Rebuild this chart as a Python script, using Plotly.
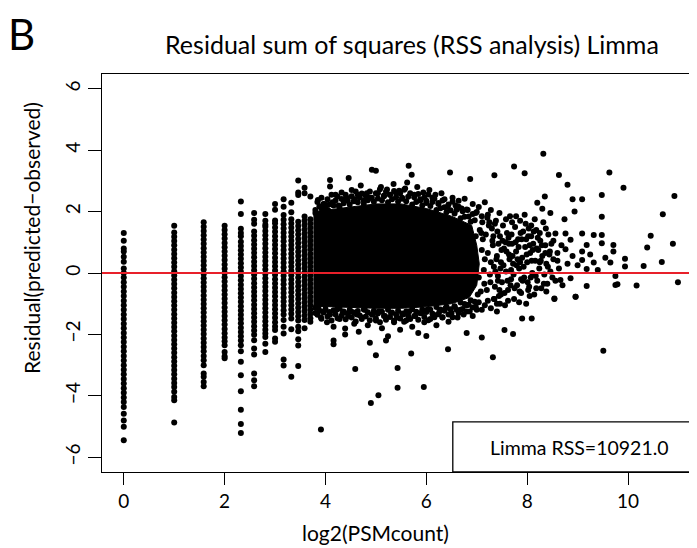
import numpy as np
import plotly.graph_objects as go

# ---------------- data ----------------
# discrete PSM counts (x = log2(count)) and their residual columns
col_counts = [1, 2, 3, 4, 5, 6, 7, 8, 9, 10, 11, 12, 13]
col_residuals = [
    [1.30, 1.05, 0.80, 0.70, 0.53, 0.37, 0.15, 0.00, -0.15, -0.30, -0.45, -0.60, -0.75, -0.90, -1.05, -1.20,
     -1.35, -1.50, -1.65, -1.80, -1.95, -2.10, -2.25, -2.40, -2.55, -2.70, -2.85, -3.00, -3.15, -3.30, -3.45,
     -3.60, -3.75, -3.90, -4.05, -4.20, -4.36, -4.58, -4.80, -5.01, -5.45],
    [1.54, 1.32, 1.18, 1.04, 0.90, 0.76, 0.62, 0.48, 0.34, 0.20, 0.06, -0.08, -0.22, -0.36, -0.50, -0.64, -0.78,
     -0.92, -1.06, -1.20, -1.34, -1.48, -1.62, -1.76, -1.90, -2.04, -2.18, -2.32, -2.46, -2.60, -2.74, -2.88,
     -3.02, -3.16, -3.30, -3.44, -3.58, -3.71, -3.87, -4.04, -4.14, -4.87],
    [1.65, 1.51, 1.37, 1.23, 1.09, 0.95, 0.81, 0.67, 0.53, 0.39, 0.25, 0.11, -0.03, -0.17, -0.31, -0.45, -0.59,
     -0.73, -0.87, -1.01, -1.15, -1.29, -1.43, -1.57, -1.71, -1.85, -1.99, -2.13, -2.27, -2.41, -2.55, -2.70,
     -2.84, -3.00, -3.27, -3.38, -3.55, -3.69],
    [1.54, 1.40, 1.26, 1.12, 0.98, 0.84, 0.70, 0.56, 0.42, 0.28, 0.14, 0.00, -0.14, -0.28, -0.42, -0.56, -0.70,
     -0.84, -0.98, -1.12, -1.26, -1.40, -1.54, -1.68, -1.82, -1.96, -2.10, -2.22, -2.35, -2.57, -2.71, -2.78],
    [2.33, 1.92, 1.44, 1.30, 1.20, 1.02, 0.88, 0.74, 0.60, 0.46, 0.32, 0.18, 0.04, -0.10, -0.24, -0.38, -0.52,
     -0.66, -0.80, -0.94, -1.08, -1.22, -1.36, -1.50, -1.64, -1.78, -1.92, -2.06, -2.20, -2.35, -2.55, -2.89,
     -3.33, -3.85, -4.45, -4.92, -5.21],
    [1.95, 1.73, 1.60, 1.35, 1.21, 1.07, 0.93, 0.79, 0.65, 0.51, 0.37, 0.23, 0.09, -0.05, -0.19, -0.33, -0.47,
     -0.61, -0.75, -0.89, -1.03, -1.17, -1.31, -1.45, -1.59, -1.73, -1.87, -2.01, -2.19, -2.46, -2.65, -3.27,
     -3.49, -3.69],
    [1.92, 1.70, 1.57, 1.51, 1.37, 1.23, 1.09, 0.95, 0.81, 0.67, 0.53, 0.39, 0.25, 0.11, -0.03, -0.17, -0.31,
     -0.45, -0.59, -0.73, -0.87, -1.01, -1.15, -1.29, -1.43, -1.57, -1.71, -1.85, -1.97, -2.08, -2.30, -2.57],
    [2.25, 2.06, 1.71, 1.62, 1.48, 1.34, 1.20, 1.06, 0.92, 0.78, 0.64, 0.50, 0.36, 0.22, 0.08, -0.06, -0.20,
     -0.34, -0.48, -0.62, -0.76, -0.90, -1.04, -1.18, -1.32, -1.46, -1.60, -1.74, -1.86, -2.13, -2.24],
    [2.40, 2.16, 1.89, 1.73, 1.59, 1.45, 1.31, 1.17, 1.03, 0.89, 0.75, 0.61, 0.47, 0.33, 0.19, 0.05, -0.09,
     -0.23, -0.37, -0.51, -0.65, -0.79, -0.93, -1.07, -1.21, -1.35, -1.53, -1.75, -1.97, -2.82, -3.01],
    [2.29, 1.98, 1.75, 1.61, 1.47, 1.33, 1.19, 1.05, 0.91, 0.77, 0.63, 0.49, 0.35, 0.21, 0.07, -0.07, -0.21,
     -0.35, -0.49, -0.63, -0.77, -0.91, -1.05, -1.19, -1.33, -1.48, -1.83, -3.38],
    [3.01, 2.62, 2.54, 1.67, 1.53, 1.39, 1.25, 1.11, 0.97, 0.83, 0.69, 0.55, 0.41, 0.27, 0.13, -0.01, -0.15,
     -0.29, -0.43, -0.57, -0.71, -0.85, -0.99, -1.13, -1.27, -1.41, -1.55, -1.75, -1.90, -2.16, -2.36, -3.03],
    [2.78, 2.60, 1.84, 1.70, 1.56, 1.42, 1.28, 1.14, 1.00, 0.86, 0.72, 0.58, 0.44, 0.30, 0.16, 0.02, -0.12,
     -0.26, -0.40, -0.54, -0.68, -0.82, -0.96, -1.10, -1.24, -1.38, -1.53, -1.80],
    [2.49, 1.75, 1.61, 1.47, 1.33, 1.19, 1.05, 0.91, 0.77, 0.63, 0.49, 0.35, 0.21, 0.07, -0.07, -0.21, -0.35,
     -0.49, -0.63, -0.77, -0.91, -1.05, -1.19, -1.33, -1.47, -1.59],
]

# outline of the solid (fully overlapping) core of the point cloud
core_x = [3.76, 3.80, 4.50, 5.00, 5.50, 6.00, 6.50, 6.90, 7.00, 7.05, 7.00, 6.85,
          6.50, 6.00, 5.50, 5.00, 4.50, 4.00, 3.76]
core_y = [1.95, 2.00, 2.15, 2.25, 2.25, 2.10, 1.85, 1.55, 0.90, 0.30, -0.40, -0.80,
          -1.00, -1.10, -1.15, -1.15, -1.12, -1.08, -1.08]

# dense band of points along the upper edge of the core
band_up_x = [3.80, 3.84, 3.88, 3.92, 3.96, 4.00, 4.04, 4.08, 4.12, 4.16, 4.20, 4.24, 4.28, 4.32, 4.36, 4.40,
             4.44, 4.48, 4.52, 4.56, 4.60, 4.64, 4.68, 4.72, 4.76, 4.80, 4.84, 4.88, 4.92, 4.96, 5.00, 5.04,
             5.08, 5.12, 5.16, 5.20, 5.24, 5.28, 5.32, 5.36, 5.40, 5.44, 5.48, 5.52, 5.56, 5.60, 5.64, 5.68,
             5.72, 5.76, 5.80, 5.84, 5.88, 5.92, 5.96, 6.00, 6.04, 6.08, 6.12, 6.16, 6.20, 6.24, 6.28, 6.32,
             6.36, 6.40, 6.44, 6.48, 6.52, 6.56, 6.60, 6.64, 6.68, 6.72, 6.76, 6.80, 6.84, 6.88, 6.92, 6.96, 7.00]
band_up_y = [2.05, 2.31, 2.17, 2.45, 2.25, 2.12, 2.40, 2.24, 2.55, 2.20, 2.36, 2.49, 2.15, 2.41, 2.27, 2.55,
             2.36, 2.23, 2.50, 2.34, 2.65, 2.30, 2.46, 2.59, 2.25, 2.51, 2.37, 2.65, 2.45, 2.32, 2.60, 2.43,
             2.73, 2.37, 2.52, 2.65, 2.30, 2.55, 2.40, 2.67, 2.47, 2.33, 2.60, 2.42, 2.71, 2.34, 2.48, 2.60,
             2.23, 2.47, 2.31, 2.57, 2.36, 2.20, 2.46, 2.28, 2.56, 2.18, 2.31, 2.42, 2.05, 2.28, 2.11, 2.36,
             2.14, 1.98, 2.23, 2.04, 2.32, 1.94, 2.06, 2.16, 1.78, 2.01, 1.83, 2.07, 1.84, 1.67, 1.92, 1.72, 1.99]

# dense band of points along the lower edge of the core
band_lo_x = band_up_x
band_lo_y = [-1.13, -1.36, -1.23, -1.49, -1.29, -1.17, -1.42, -1.27, -1.55, -1.21, -1.35, -1.47, -1.16, -1.39,
             -1.25, -1.51, -1.31, -1.20, -1.45, -1.29, -1.58, -1.24, -1.38, -1.50, -1.19, -1.42, -1.28, -1.54,
             -1.35, -1.23, -1.48, -1.32, -1.60, -1.26, -1.40, -1.52, -1.20, -1.43, -1.29, -1.55, -1.35, -1.23,
             -1.48, -1.32, -1.59, -1.25, -1.39, -1.50, -1.18, -1.40, -1.26, -1.52, -1.31, -1.19, -1.43, -1.27,
             -1.54, -1.20, -1.33, -1.44, -1.11, -1.34, -1.19, -1.44, -1.23, -1.10, -1.35, -1.18, -1.44, -1.08,
             -1.20, -1.30, -0.96, -1.17, -1.01, -1.25, -1.03, -0.89, -1.12, -0.94, -1.20]

# scattered points above the core
upper_x = [3.80, 3.85, 3.92, 3.98, 4.05, 4.09, 4.09, 4.14, 4.20, 4.26, 4.32, 4.38, 4.42, 4.46, 4.52, 4.58,
           4.64, 4.70, 4.76, 4.82, 4.88, 4.92, 5.00, 5.04, 5.10, 5.16, 5.22, 5.28, 5.35, 5.40, 5.46, 5.52,
           5.58, 5.65, 5.71, 5.62, 5.76, 5.82, 5.88, 5.94, 6.00, 6.06, 6.12, 6.18, 6.24, 6.30, 6.36, 6.42,
           6.47, 6.52, 6.58, 6.64, 6.70, 6.76, 6.82, 6.87, 6.92, 6.98, 7.04, 7.10, 7.16, 7.22, 7.28, 7.35]
upper_y = [1.95, 2.38, 2.10, 2.25, 2.05, 3.03, 2.82, 2.30, 2.55, 2.20, 2.62, 2.35, 2.45, 3.09, 2.70, 2.40,
           2.55, 2.85, 2.35, 2.60, 2.45, 3.36, 3.33, 2.60, 2.80, 2.50, 2.72, 2.55, 2.90, 2.60, 2.68, 2.45,
           2.75, 3.49, 3.20, 2.95, 2.55, 2.80, 2.40, 2.62, 2.35, 2.70, 2.45, 2.55, 2.25, 2.60, 2.40, 2.15,
           3.27, 2.45, 2.20, 2.35, 2.10, 2.42, 2.05, 3.06, 2.25, 1.95, 2.15, 1.85, 2.30, 1.90, 2.05, 3.18]

# speckled mass to the right of the core
right_x = [7.30, 7.32, 7.34, 7.36, 7.38, 7.40, 7.42, 7.44, 7.46, 7.48, 7.50, 7.52, 7.54, 7.56, 7.58, 7.60,
           7.62, 7.64, 7.66, 7.68, 7.70, 7.72, 7.74, 7.76, 7.78, 7.80, 7.82, 7.84, 7.86, 7.88, 7.90, 7.92,
           7.94, 7.96, 7.98, 8.00, 8.02, 8.04, 8.06, 8.08, 8.10, 8.12, 8.14, 8.16, 8.18, 8.20, 8.22, 8.24,
           8.26, 8.28, 8.30, 8.32, 8.34, 8.36, 8.38, 8.40, 8.42, 8.44, 8.46, 8.48, 8.50, 8.52, 8.56, 8.56,
           8.54, 8.60, 8.66, 8.63, 8.68, 8.74, 8.76, 8.76, 8.80, 8.86, 8.86, 8.90, 8.94, 8.96, 9.00,
           7.31, 7.37, 7.41, 7.45, 7.49, 7.53, 7.57, 7.61, 7.65, 7.69, 7.73, 7.77, 7.81, 7.85, 7.89, 7.93,
           7.97, 8.01, 8.05, 8.09, 8.13, 8.17, 8.21, 8.25, 8.29, 8.33, 8.37, 8.41, 8.45, 7.40, 7.62, 7.84,
           8.05, 7.25, 7.45, 7.70, 7.95, 8.15, 7.35, 7.55, 7.75, 8.18, 8.38, 8.60, 8.70, 8.52,
           8.20, 8.30, 8.35, 8.46, 8.25,
           7.18, 7.22, 7.26, 7.20, 7.24, 7.28, 7.21, 7.27, 7.33, 7.39, 7.43, 7.47, 7.51, 7.59, 7.63, 7.67,
           7.71, 7.79, 7.83, 7.87, 7.91, 7.99, 8.03, 8.07, 8.11, 7.36, 7.48, 7.58, 7.68, 7.78, 7.88, 7.98,
           8.08, 8.19, 8.27, 8.36, 7.42, 7.64, 7.86, 8.02,
           7.06, 7.10, 7.14, 7.08, 7.12, 7.16, 7.04, 7.11, 7.15, 7.09, 6.98, 7.02]
right_y = [1.45, 0.90, 0.20, -0.45, 1.70, 0.55, -0.10, -0.75, 1.20, 0.35, -0.30, 1.55, 0.80, -1.05, 0.05, 1.30,
           -0.55, 0.60, 1.85, -0.20, 0.95, 0.30, -0.85, 1.50, 0.70, -0.40, 1.10, 0.15, 1.70, -0.65, 0.50, 1.35,
           -0.15, 0.85, -1.00, 0.35, 1.20, -0.45, 0.65, 1.55, 0.00, 0.95, -0.70, 0.40, 1.40, -0.25, 0.75, 0.15,
           1.05, -0.50, 0.55, 1.65, -0.05, 0.90, 0.30, -0.35, 1.25, 0.60, 0.05, 0.95, -0.15, 0.45, 1.29, -0.25,
           -0.83, 0.65, -0.23, 0.15, 0.90, 1.75, 1.29, 0.77, 0.30, 1.08, -0.17, 0.55, 2.00, -0.77, 0.25,
           1.05, 0.05, 1.35, -0.55, 0.75, 0.25, 1.00, -0.25, 0.45, 1.25, -0.05, 1.00, 0.45, -0.60, 1.10, 0.20,
           1.60, -0.30, 0.90, 0.40, 1.35, -0.10, 1.15, 0.35, 0.90, -0.35, 1.45, 0.20, 0.70, -1.00, -0.90, -0.95,
           -0.75, 1.65, 1.95, 1.65, 1.90, 1.75, -0.85, -0.65, -0.50, -0.50, -0.60, 0.40, -0.40, 1.05,
           2.29, 2.09, 2.49, 1.95, 1.30,
           1.25, 0.65, -0.05, -0.55, 1.55, 0.35, 1.80, -0.30, 1.20, 0.45, 0.95, 0.15, 1.05, 0.70, 1.15, -0.40,
           0.55, 0.25, 0.85, 1.30, -0.25, 0.60, 1.45, -0.15, 0.75, 1.60, -0.70, 1.75, 0.10, 1.85, -0.20, 1.10,
           1.20, 0.80, 0.40, 0.65, -0.25, 0.95, 0.35, -0.55,
           1.40, 0.75, 0.10, -0.60, 1.10, 0.45, -0.15, 1.65, -0.35, 1.30, 1.20, -0.70]

# scattered points below the core
lower_x = [3.80, 3.86, 3.91, 3.97, 4.03, 4.09, 4.16, 4.16, 4.22, 4.28, 4.34, 4.39, 4.45, 4.51, 4.57, 4.62,
           4.66, 4.72, 4.78, 4.84, 4.88, 4.94, 5.00, 5.06, 5.12, 5.18, 5.24, 5.30, 5.36, 5.42, 5.48, 5.54,
           5.60, 5.66, 5.72, 5.78, 5.84, 5.90, 5.96, 6.02, 6.08, 6.14, 6.20, 6.26, 6.32, 6.38, 6.44, 6.50,
           6.56, 6.62, 6.68, 6.74, 6.80, 6.86, 6.92, 6.98, 7.04, 7.10, 7.16, 7.22, 7.28, 7.34, 7.40, 7.46,
           7.55, 7.72, 7.90, 8.09]
lower_y = [-1.30, -1.15, -1.45, -1.25, -1.60, -1.35, -1.75, -2.32, -1.20, -1.50, -1.30, -1.81, -1.40, -1.25,
           -1.65, -1.35, -1.91, -1.45, -1.20, -1.70, -2.27, -1.35, -1.55, -1.25, -1.80, -1.40, -2.06, -1.30,
           -1.60, -1.45, -1.85, -1.35, -1.55, -1.25, -1.75, -1.40, -1.95, -1.30, -1.60, -1.20, -1.50, -1.35,
           -1.70, -1.25, -1.45, -1.15, -1.59, -1.30, -1.10, -1.45, -1.20, -1.35, -1.05, -1.25, -1.40, -1.10,
           -0.95, -1.20, -1.05, -0.90, -1.15, -0.85, -1.25, -1.00, -1.86, -1.99, -1.48, -1.48]

# isolated outlying points
outlier_x = [3.91, 4.16, 4.59, 4.90, 5.00, 5.05, 5.43, 5.43, 5.70, 5.95, 6.43, 7.32, 4.39, 5.20, 6.00, 6.80,
             7.10, 9.51, 8.63, 8.80, 8.90, 9.09, 9.09, 9.09, 9.09, 9.18, 9.18, 9.18, 9.32, 9.32, 9.48, 9.48,
             9.48, 9.48, 9.63, 9.65, 9.71, 9.71, 9.75, 9.75, 9.79, 9.91, 9.94, 9.94, 10.17, 10.31, 10.38,
             10.45, 10.67, 10.69, 10.89, 10.92, 10.99, 9.25, 9.40, 9.55, 8.32, 7.74, 7.95, 8.54, 8.96]
outlier_y = [-5.10, -2.20, -3.13, -4.23, -2.68, -3.98, -3.09, -3.74, -2.62, -3.71, -2.48, -2.74, -2.00, -2.20,
             -2.05, -1.95, -2.10, -2.53, 3.19, 2.87, 2.40, 2.40, 1.29, 0.70, 0.42, 0.91, 0.13, -0.42, 1.24,
             0.34, 2.54, 1.83, 1.24, 0.97, 3.27, 0.34, 0.91, 0.70, -0.10, -0.39, -0.37, 2.78, 0.46, 0.21,
             -0.41, 0.23, 0.83, 1.21, 0.36, 1.91, 0.95, 2.51, -0.30, 0.60, 0.10, 0.50, 3.88, 3.47, 3.25,
             -0.85, -0.77]

x_ticks = [0, 2, 4, 6, 8, 10]
y_ticks = [-6, -4, -2, 0, 2, 4, 6]
ref_level = 0
rss_label = "Limma RSS=10921.0"

# ---------------- figure ----------------
FONT = "Lato, 'Open Sans', sans-serif"
OFF = 8                      # page body margin of the html page
W, H = 697 - OFF, 548 - OFF
ML, MR, MT, MB = 94, 0, 66, 76
PW, PH = W - ML - MR, H - MT - MB


def px(xv):
    """viewport x pixel -> paper coordinate"""
    return (xv - OFF - ML) / PW


def py(yv):
    """viewport y pixel -> paper coordinate"""
    return (H - MB - (yv - OFF)) / PH


fig = go.Figure()

fig.add_trace(go.Scatter(x=core_x, y=core_y, mode="lines", fill="toself",
                         fillcolor="black", line=dict(color="black", width=1),
                         hoverinfo="skip", showlegend=False))

col_x, col_y = [], []
for c, ys in zip(col_counts, col_residuals):
    col_x += [float(np.log2(c))] * len(ys)
    col_y += ys

all_x = col_x + band_up_x + band_lo_x + upper_x + right_x + lower_x + outlier_x
all_y = col_y + band_up_y + band_lo_y + upper_y + right_y + lower_y + outlier_y

fig.add_trace(go.Scatter(x=all_x, y=all_y, mode="markers",
                         marker=dict(color="black", size=6, line=dict(width=0)),
                         showlegend=False))

axis_common = dict(showgrid=False, zeroline=False, showline=True, linecolor="black",
                   linewidth=1.3, ticks="outside", tickcolor="black", tickwidth=1.3,
                   tickfont=dict(family=FONT, size=19, color="black"))

fig.update_xaxes(range=[-0.432, 11.368], tickvals=x_ticks, ticklen=12, mirror=True, **axis_common)
fig.update_yaxes(range=[-6.48, 6.48], tickvals=y_ticks, ticklen=13, tickangle=-90, **axis_common)

# reference line y = 0
fig.add_shape(type="line", xref="paper", x0=0, x1=1, yref="y", y0=ref_level, y1=ref_level,
              line=dict(color="#E8202A", width=2.2), layer="above")

# legend box (bottom right)
fig.add_shape(type="rect", xref="x", yref="y", x0=6.525, x1=13, y0=-6.48, y1=-4.85,
              line=dict(color="black", width=1.3), fillcolor="white", layer="above")
fig.add_annotation(x=9.03, y=-5.68, xref="x", yref="y", text=rss_label, showarrow=False,
                   font=dict(family=FONT, size=19.5, color="black"), xanchor="center", yanchor="middle")

ann = dict(showarrow=False, xref="paper", yref="paper", xanchor="center", yanchor="middle")
fig.add_annotation(x=px(411.5), y=py(44), text="Residual sum of squares (RSS analysis) Limma",
                   font=dict(family=FONT, size=25, color="black"), **ann)
fig.add_annotation(x=px(21.5), y=py(34), text="B", font=dict(family=FONT, size=42, color="black"), **ann)
fig.add_annotation(x=px(375), y=py(532), text="log2(PSMcount)",
                   font=dict(family=FONT, size=21, color="black"), **ann)
fig.add_annotation(x=px(31), y=py(238), text="Residual(predicted\u2212observed)", textangle=-90,
                   font=dict(family=FONT, size=21, color="black"), **ann)

fig.update_layout(width=W, height=H, margin=dict(l=ML, r=MR, t=MT, b=MB, pad=0),
                  paper_bgcolor="white", plot_bgcolor="white", showlegend=False)

fig.write_html("out.html")
